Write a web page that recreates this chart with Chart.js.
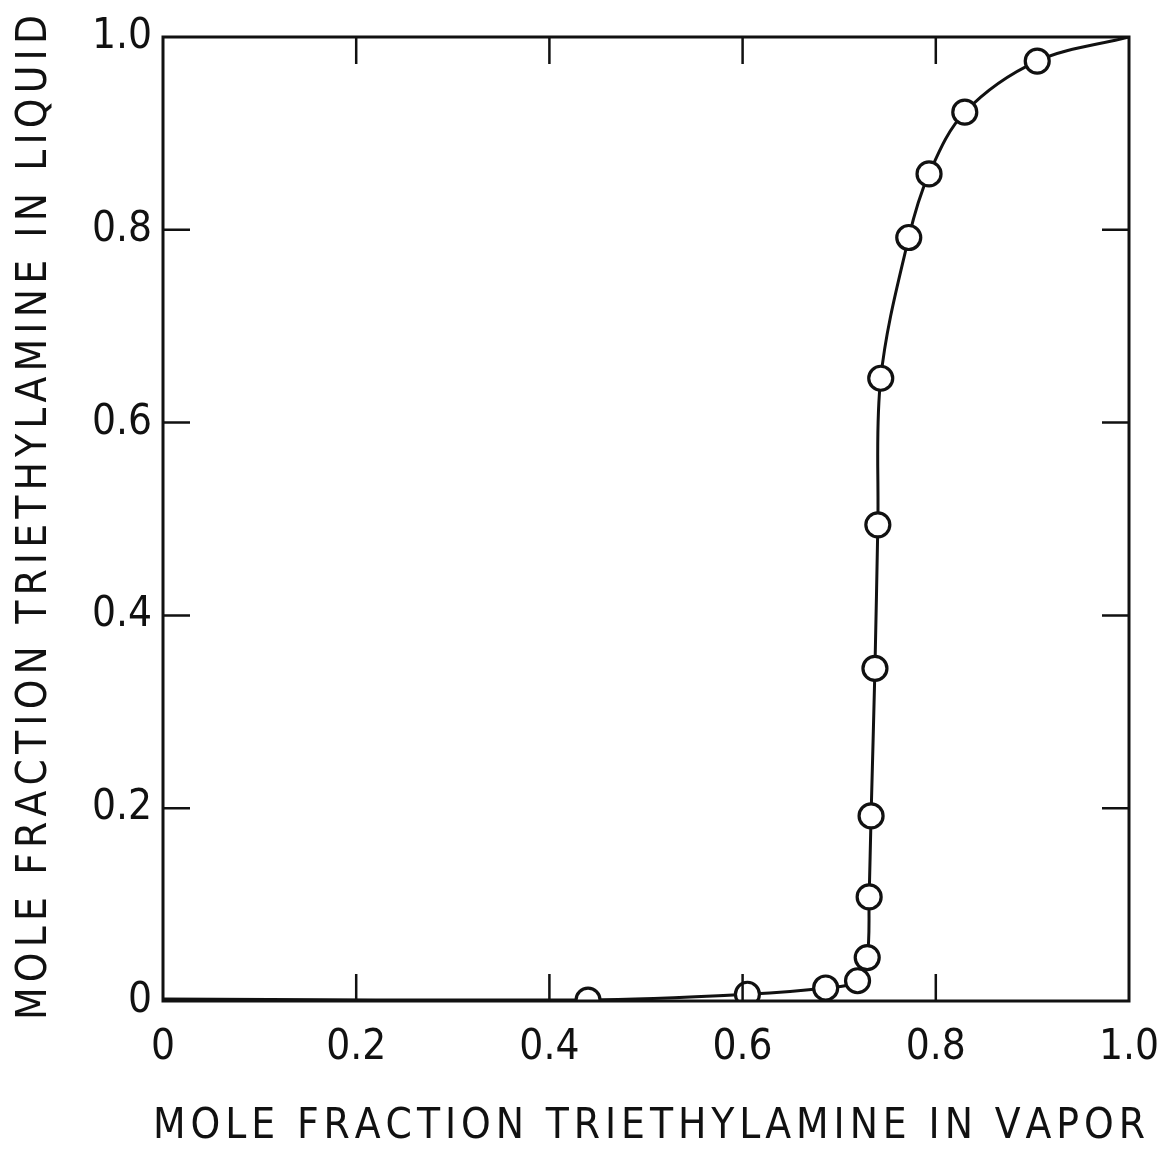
<!DOCTYPE html>
<html>
<head>
<meta charset="utf-8">
<script src="https://cdn.jsdelivr.net/npm/chart.js@4.4.1/dist/chart.umd.min.js"></script>
<style>
  html, body { margin: 0; padding: 0; background: #fff; }
  #box { width: 1160px; height: 1149px; }
</style>
</head>
<body>
<div id="box"><canvas id="vleChart"></canvas></div>
<script>
// 기액평형 데이터 (트리에틸아민 몰분율)
const vaporX  = [0.440, 0.605, 0.686, 0.719, 0.729, 0.731, 0.733, 0.737, 0.740, 0.743, 0.772, 0.793, 0.830, 0.905];
const liquidY = [0.001, 0.007, 0.0135, 0.021, 0.045, 0.108, 0.192, 0.345, 0.494, 0.646, 0.792, 0.858, 0.922, 0.975];

// 곡선 양 끝점 (순수 성분)
const curveStart = [0, 0.002];
const curveEnd   = [1.0, 1.0];

// 눈금
const tickValues = [0, 0.2, 0.4, 0.6, 0.8, 1.0];
const innerTicks = [0.2, 0.4, 0.6, 0.8];

const xTitle = 'MOLE FRACTION TRIETHYLAMINE IN VAPOR';
const yTitle = 'MOLE FRACTION TRIETHYLAMINE IN LIQUID';

const FONT = '"DejaVu Sans Condensed", "DejaVu Sans", sans-serif';
const INK = '#111';

// 측정점
const points = vaporX.map((x, i) => ({ x: x, y: liquidY[i] }));
// 곡선: 끝점 + 측정점
const curve = [{ x: curveStart[0], y: curveStart[1] }]
  .concat(points)
  .concat([{ x: curveEnd[0], y: curveEnd[1] }]);

// 글자 간격을 늘려 지정 폭에 맞춰 그리기
function spreadText(ctx, text, x0, x1, y) {
  const chars = text.split('');
  const widths = chars.map(c => ctx.measureText(c).width);
  const total = widths.reduce((a, b) => a + b, 0);
  const gap = (x1 - x0 - total) / (chars.length - 1);
  let x = x0;
  chars.forEach((c, i) => {
    ctx.fillText(c, x, y);
    x += widths[i] + gap;
  });
}

// 테두리, 안쪽 눈금, 축 제목
const framePlugin = {
  id: 'frame',
  afterDatasetsDraw(chart) {
    const ctx = chart.ctx;
    const a = chart.chartArea;
    const xs = chart.scales.x, ys = chart.scales.y;
    ctx.save();
    ctx.strokeStyle = INK;
    ctx.lineWidth = 3;
    ctx.strokeRect(a.left, a.top, a.right - a.left, a.bottom - a.top);

    ctx.lineWidth = 2.5;
    const len = 27;
    innerTicks.forEach(v => {
      const px = xs.getPixelForValue(v);
      const py = ys.getPixelForValue(v);
      ctx.beginPath();
      ctx.moveTo(px, a.bottom); ctx.lineTo(px, a.bottom - len);
      ctx.moveTo(px, a.top);    ctx.lineTo(px, a.top + len);
      ctx.moveTo(a.left, py);   ctx.lineTo(a.left + len, py);
      ctx.moveTo(a.right, py);  ctx.lineTo(a.right - len, py);
      ctx.stroke();
    });

    ctx.fillStyle = INK;
    ctx.font = '42px ' + FONT;
    ctx.textBaseline = 'alphabetic';
    ctx.textAlign = 'left';
    spreadText(ctx, xTitle, 153, 1145, 1138);

    ctx.translate(46, 1020);
    ctx.rotate(-Math.PI / 2);
    spreadText(ctx, yTitle, 0, 1005, 0);
    ctx.restore();
  }
};

const tickFont = { family: FONT, size: 42 };
const fmt = v => (v === 0 ? '0' : v.toFixed(1));

const ctx = document.getElementById('vleChart').getContext('2d');
new Chart(ctx, {
  type: 'scatter',
  data: {
    datasets: [
      {
        label: 'data',
        data: points,
        order: 0,
        showLine: false,
        pointStyle: 'circle',
        pointRadius: 12,
        pointBorderWidth: 3.2,
        pointBackgroundColor: '#fff',
        pointBorderColor: INK
      },
      {
        label: 'curve',
        data: curve,
        order: 1,
        showLine: true,
        borderColor: INK,
        borderWidth: 3,
        pointRadius: 0,
        tension: 0.35,
        fill: false
      }
    ]
  },
  options: {
    responsive: true,
    maintainAspectRatio: false,
    animation: false,
    events: [],
    layout: { padding: { left: 0, top: 37, right: 31, bottom: 0 } },
    plugins: {
      legend: { display: false },
      tooltip: { enabled: false }
    },
    scales: {
      x: {
        type: 'linear',
        min: 0, max: 1,
        afterFit: s => { s.height = 148; s.paddingLeft = 0; s.paddingRight = 0; },
        afterBuildTicks: s => { s.ticks = tickValues.map(v => ({ value: v })); },
        grid: { display: false, drawTicks: false },
        border: { display: false },
        ticks: { padding: 22, color: INK, font: tickFont, callback: fmt }
      },
      y: {
        type: 'linear',
        min: 0, max: 1,
        afterFit: s => { s.width = 163; s.paddingTop = 0; s.paddingBottom = 0; },
        afterBuildTicks: s => { s.ticks = tickValues.map(v => ({ value: v })); },
        grid: { display: false, drawTicks: false },
        border: { display: false },
        ticks: { padding: 11, color: INK, font: tickFont, callback: fmt }
      }
    }
  },
  plugins: [framePlugin]
});
</script>
</body>
</html>
